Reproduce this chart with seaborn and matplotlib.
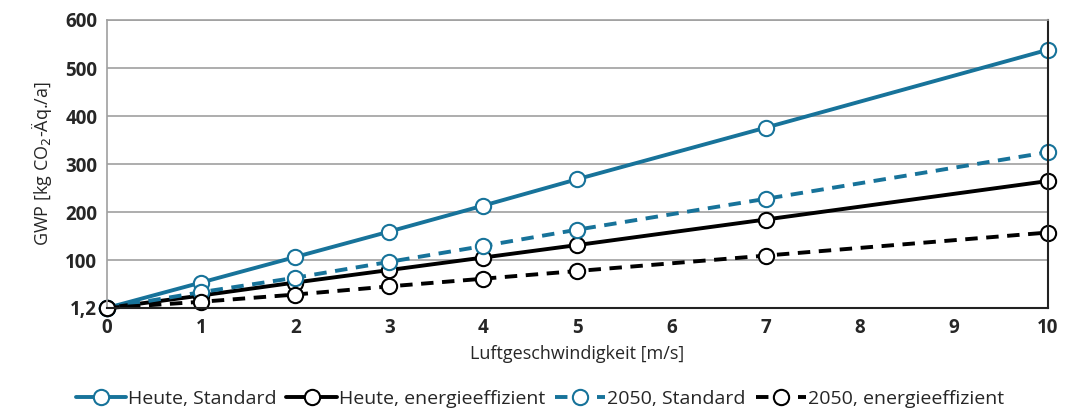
import matplotlib
matplotlib.use("Agg")
import matplotlib.pyplot as plt
import pandas as pd
import seaborn as sns

speed = [0, 1, 2, 3, 4, 5, 7, 10]
heute_standard = [1.2, 54, 107, 160, 214, 269, 376, 538]
heute_effizient = [1.2, 27, 54, 80, 106, 132, 185, 265]
zukunft_standard = [1.2, 34, 64, 97, 130, 164, 228, 325]
zukunft_effizient = [1.2, 14, 29, 46, 62, 78, 110, 158]

series_names = ["Heute, Standard", "Heute, energieeffizient",
                "2050, Standard", "2050, energieeffizient"]
y_ticks = [1.2, 100, 200, 300, 400, 500, 600]
y_tick_labels = ["1,2", "100", "200", "300", "400", "500", "600"]
x_ticks = list(range(0, 11))

TEAL = "#17739a"
colors = {series_names[0]: TEAL, series_names[1]: "black",
          series_names[2]: TEAL, series_names[3]: "black"}
dashes = {series_names[0]: "", series_names[1]: "",
          series_names[2]: (3.2, 2.2), series_names[3]: (3.2, 2.2)}

frames = []
for name, vals in zip(series_names,
                      [heute_standard, heute_effizient, zukunft_standard, zukunft_effizient]):
    frames.append(pd.DataFrame({"speed": speed, "gwp": vals, "serie": name}))
df = pd.concat(frames, ignore_index=True)

sns.set_style("white")
plt.rcParams["font.family"] = ["Open Sans", "DejaVu Sans"]

fig = plt.figure(figsize=(10.65, 4.15), dpi=100)
ax = fig.add_axes([0.1005, 0.258, 0.8835, 0.694])

ax.grid(axis="y", color="#a0a0a0", lw=1.2)
ax.set_axisbelow(True)

sns.lineplot(data=df, x="speed", y="gwp", hue="serie", style="serie",
             hue_order=series_names, style_order=series_names,
             palette=colors, dashes=dashes, markers=["o"] * 4,
             linewidth=2.8, markersize=11, markerfacecolor="white",
             markeredgewidth=1.5, ax=ax, legend=True, clip_on=False)

# marker edge colours follow the line colour
for line in ax.get_lines():
    line.set_markeredgecolor(line.get_color())

ax.set_xlim(0, 10)
ax.set_ylim(1.2, 600)
ax.set_xticks(x_ticks)
ax.set_yticks(y_ticks)
ax.set_yticklabels(y_tick_labels)
ax.tick_params(axis="both", labelsize=13.5, length=0, pad=7)
for lbl in ax.get_xticklabels() + ax.get_yticklabels():
    lbl.set_fontweight("bold")

ax.set_xlabel("Luftgeschwindigkeit [m/s]", fontsize=13, labelpad=5)
ax.set_ylabel("GWP [kg CO$_2$-Äq./a]", fontsize=13, labelpad=8)

for side in ["left", "top"]:
    ax.spines[side].set_color("#a0a0a0")
    ax.spines[side].set_linewidth(1.2)
for side in ["bottom", "right"]:
    ax.spines[side].set_color("#222222")
    ax.spines[side].set_linewidth(1.5)

handles, labels = ax.get_legend_handles_labels()
for h in handles:
    h.set_markeredgecolor(h.get_color())
    h.set_markerfacecolor("white")
ax.legend(handles, labels, loc="center", bbox_to_anchor=(0.46, -0.315),
          ncol=4, frameon=False, fontsize=14, handlelength=2.6,
          handletextpad=0.1, columnspacing=0.5, borderpad=0)

plt.savefig("out.png", dpi=100)
plt.close()
